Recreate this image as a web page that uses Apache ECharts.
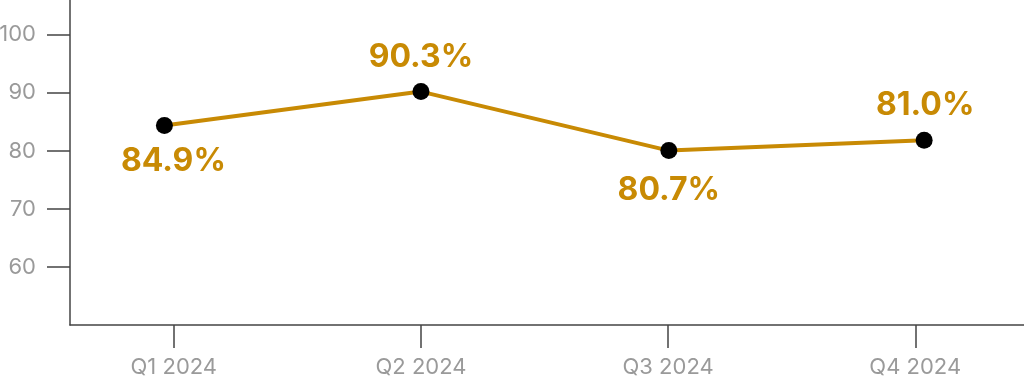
<!DOCTYPE html>
<html>
<head>
<meta charset="utf-8">
<script src="https://cdn.jsdelivr.net/npm/echarts@6/dist/echarts.min.js"></script>
<style>
html,body{margin:0;padding:0;background:#fff;}
#chart{width:1024px;height:381px;}
</style>
</head>
<body>
<div id="chart"></div>
<script>
// Data
var categories = ["Q1 2024", "Q2 2024", "Q3 2024", "Q4 2024"];
var xPositions = [-0.038, 1.0, 2.003, 3.036];   // plotted point positions (slightly off the ticks in the picture)
var values = [84.36, 90.22, 80.05, 81.84];        // plotted point heights
var labelTexts = ["84.9%", "90.3%", "80.7%", "81.0%"];
var labelSides = ["bottom", "top", "bottom", "top"];
var yTicks = [60, 70, 80, 90, 100];

var gold = "#c88a04";
var axisColor = "#444444";
var tickLabelColor = "#9a9a9a";

var labelOffsets = [[9, 0], [0, 0], [0, 0], [1, 0]];
var labelDistances = [11, 10, 15, 10];

var seriesData = values.map(function (v, i) {
  return {
    value: [xPositions[i], v],
    label: {
      show: true,
      position: labelSides[i],
      distance: labelDistances[i],
      offset: labelOffsets[i],
      formatter: labelTexts[i]
    }
  };
});

var chart = echarts.init(document.getElementById("chart"), null, { renderer: "canvas" });
chart.setOption({
  animation: false,
  backgroundColor: "#ffffff",
  grid: { left: 70, right: 0, top: 0, bottom: 56, containLabel: false, outerBoundsMode: "none" },
  xAxis: {
    type: "value",
    min: -0.42,
    max: 3.44,
    splitLine: { show: false },
    axisLine: { show: true, onZero: false, lineStyle: { color: axisColor, width: 1.5 } },
    axisTick: { show: true, length: 23, lineStyle: { color: axisColor, width: 1.5 }, customValues: [0, 1, 2, 3] },
    axisLabel: {
      customValues: [0, 1, 2, 3],
      formatter: function (v) { return categories[Math.round(v)]; },
      color: tickLabelColor,
      fontFamily: "Inter",
      fontSize: 22,
      margin: 31
    }
  },
  yAxis: {
    type: "value",
    min: 50,
    max: 106,
    splitLine: { show: false },
    axisLine: { show: true, onZero: false, lineStyle: { color: axisColor, width: 1.5 } },
    axisTick: { show: true, length: 23, lineStyle: { color: axisColor, width: 1.5 }, customValues: yTicks },
    axisLabel: {
      customValues: yTicks,
      color: tickLabelColor,
      fontFamily: "Inter",
      fontSize: 22,
      margin: 34
    }
  },
  series: [{
    type: "line",
    data: seriesData,
    symbol: "circle",
    symbolSize: 17,
    itemStyle: { color: "#000000" },
    lineStyle: { color: gold, width: 4 },
    label: {
      color: gold,
      fontFamily: "Inter",
      fontWeight: "bold",
      fontSize: 32
    },
    z: 3
  }]
});
</script>
</body>
</html>
